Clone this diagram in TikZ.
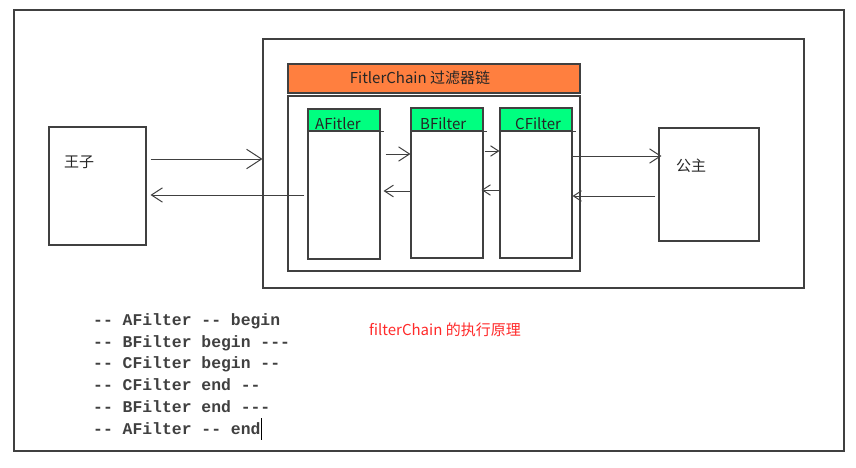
\documentclass[tikz,border=0pt]{standalone}
\usepackage{fontspec}
\setmainfont{Noto Sans CJK SC}
\newfontfamily\codefont{Liberation Mono}
\usetikzlibrary{arrows.meta}
\definecolor{lc}{HTML}{404040}
\definecolor{orangebar}{HTML}{FF7F3F}
\definecolor{greenhead}{HTML}{00FF80}
\definecolor{redtext}{HTML}{FF2A2A}
\begin{document}
\begin{tikzpicture}[x=1pt,y=-1pt,
  box/.style={draw=lc,line width=1.1pt,inner sep=0pt,rectangle},
  arr/.style={draw=lc,line width=1pt,-{Straight Barb[length=#1,width=1.3*#1,line width=1pt]}},
  arr/.default=10pt,
  lbl/.style={inner sep=0pt,font=\fontsize{15}{16}\selectfont,text=black!85},
  codeln/.style={inner sep=0pt,anchor=base west,font=\codefont\bfseries\fontsize{16.4}{22}\selectfont,text=black!75}]
\useasboundingbox (0,0) rectangle (856,468);
\fill[white] (0,0) rectangle (856,468);
% frames
\node[box,minimum width=830,minimum height=441] (frame) at (429,230.5) {};
\node[box,minimum width=541,minimum height=249] (chain) at (533.5,163.5) {};
\node[box,fill=orangebar,minimum width=292,minimum height=29] (bar) at (434,78.5) {};
\node[lbl] (bartext) at (420,78) {FitlerChain 过滤器链};
\node[box,minimum width=292,minimum height=175] (inner) at (434,183.5) {};
% filters
\node[box,fill=greenhead,minimum width=72,minimum height=22] (Ahead) at (344,120) {};
\node[box,minimum width=72,minimum height=128] (Abody) at (344,195) {};
\node[box,fill=greenhead,minimum width=72,minimum height=23] (Bhead) at (447,119.5) {};
\node[box,minimum width=72,minimum height=127] (Bbody) at (447,194.5) {};
\node[box,fill=greenhead,minimum width=72,minimum height=23] (Chead) at (536,119.5) {};
\node[box,minimum width=72,minimum height=127] (Cbody) at (536,194.5) {};
\draw[lc,line width=1.1pt] (Ahead.south east) -- ++(3,0);
\draw[lc,line width=1.1pt] (Bhead.south east) -- ++(3,0);
\draw[lc,line width=1.1pt] (Chead.south east) -- ++(3,0);
\node[lbl,anchor=west] (Atext) at (315,123.5) {AFitler};
\node[lbl,anchor=west] (Btext) at (420,123.5) {BFilter};
\node[lbl,anchor=west] (Ctext) at (515,123.5) {CFilter};
% prince and princess
\node[box,minimum width=97,minimum height=118] (wz) at (97.5,186) {};
\node[lbl] (wztext) at (79,162) {王子};
\node[box,minimum width=100,minimum height=113] (gz) at (709,184.5) {};
\node[lbl] (gztext) at (691,166) {公主};
% arrows
\draw[arr=15pt] ([xshift=4pt]wz.east |- 0,159) -- (chain.west |- 0,159);
\draw[arr=11pt] ([xshift=-3pt]Abody.west |- 0,195) -- ([xshift=4pt]wz.east |- 0,195);
\draw[arr=11pt] ([xshift=5pt]Abody.east |- 0,154) -- (Bbody.west |- 0,154);
\draw[arr=9pt] (Bbody.west |- 0,191) -- ([xshift=3pt]Abody.east |- 0,191);
\draw[arr=8pt] ([xshift=1pt]Bbody.east |- 0,151) -- (Cbody.west |- 0,151);
\draw[arr=8pt] (Cbody.west |- 0,190) -- ([xshift=-2pt]Bbody.east |- 0,190);
\draw[arr=11pt] (Cbody.east |- 0,156) -- ([xshift=3pt]gz.west |- 0,156);
\draw[arr=8pt] ([xshift=-3pt]gz.west |- 0,196) -- (Cbody.east |- 0,196);
% code
\node[codeln] (c1) at (93,325) {-- AFilter -- begin};
\node[codeln] (c2) at (93,347) {-- BFilter begin ---};
\node[codeln] (c3) at (93,368) {-- CFilter begin --};
\node[codeln] (c4) at (93,390) {-- CFilter end --};
\node[codeln] (c5) at (93,412) {-- BFilter end ---};
\node[codeln] (c6) at (93,434) {-- AFilter -- end};
\draw[black,line width=1pt] ([xshift=1pt]c6.base east |- 0,418) -- ([xshift=1pt]c6.base east |- 0,440);
\node[lbl,text=redtext] (title) at (445,330) {filterChain 的执行原理};
\end{tikzpicture}
\end{document}
